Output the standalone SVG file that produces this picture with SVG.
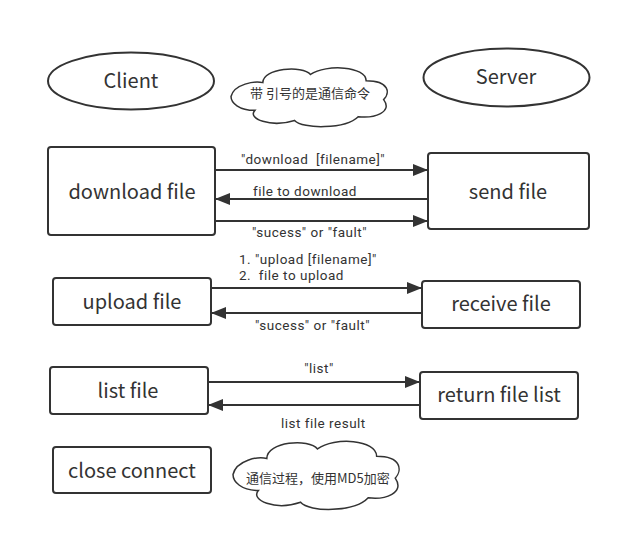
<svg xmlns="http://www.w3.org/2000/svg" width="621" height="543" viewBox="0 0 621 543">
<style>
.shape{fill:#fff;stroke:#333;stroke-width:2}
.cloud{fill:#fff;stroke:#333;stroke-width:1.5;vector-effect:non-scaling-stroke}
.big{font-family:"Noto Sans CJK SC","Noto Sans",sans-serif;font-size:20px;fill:#333;text-anchor:middle}
.lbl{font-family:Roboto,"Liberation Sans",sans-serif;font-size:13.5px;letter-spacing:0.5px;fill:#333;white-space:pre}
.cj{font-family:"Noto Sans CJK SC",sans-serif;font-size:13px;fill:#333}
.conn{stroke:#333;stroke-width:2;fill:none;marker-end:url(#arr)}
</style>
<defs>
<marker id="arr" markerUnits="userSpaceOnUse" markerWidth="16" markerHeight="12" refX="15" refY="6" orient="auto">
<path d="M0,0 L15,6 L0,12 Z" fill="#333"/>
</marker>
<path id="cloudp" class="cloud" d="M0,0.5 C0.02,0.3 0.15,0.25 0.2,0.28 C0.2,0.05 0.45,0 0.5,0.15 C0.6,-0.02 0.85,0.02 0.85,0.25 C1,0.25 1,0.45 0.96,0.55 C1.02,0.75 0.9,0.85 0.8,0.82 C0.72,1.02 0.45,1.02 0.4,0.88 C0.25,1 0.1,0.85 0.15,0.72 C0.05,0.72 0,0.6 0,0.5 Z"/>
</defs>
<rect width="621" height="543" fill="#fff"/>
<g id="client">
<ellipse class="shape" cx="131" cy="81" rx="83" ry="28.5"/>
<text class="big" x="131" y="88">Client</text>
</g>
<g id="server">
<ellipse class="shape" cx="506.5" cy="77.5" rx="83" ry="29"/>
<text class="big" x="506" y="84">Server</text>
</g>
<g id="note1">
<use href="#cloudp" transform="translate(231,65) scale(159,63)"/>
<text class="cj" x="250" y="98">带 引号的是通信命令</text>
</g>
<g id="download">
<rect class="shape" x="48" y="147" width="167" height="88" rx="3"/>
<text class="big" x="132" y="199">download file</text>
</g>
<g id="send">
<rect class="shape" x="428" y="153" width="161" height="76" rx="3"/>
<text class="big" x="508" y="199">send file</text>
</g>
<g id="upload">
<rect class="shape" x="53" y="278" width="158" height="47" rx="3"/>
<text class="big" x="132" y="309">upload file</text>
</g>
<g id="receive">
<rect class="shape" x="422" y="281" width="158" height="47" rx="3"/>
<text class="big" x="501" y="311">receive file</text>
</g>
<g id="list">
<rect class="shape" x="50" y="367" width="158" height="47" rx="3"/>
<text class="big" x="128" y="398">list file</text>
</g>
<g id="returnlist">
<rect class="shape" x="420" y="372" width="158" height="47" rx="3"/>
<text class="big" x="499" y="402">return file list</text>
</g>
<g id="close">
<rect class="shape" x="53" y="447" width="158" height="46" rx="3"/>
<text class="big" x="132" y="478">close connect</text>
</g>
<g id="note2">
<use href="#cloudp" transform="translate(233,438) scale(169,73)"/>
<text class="cj" x="246" y="483">通信过程，使用MD5加密</text>
</g>
<g id="connectors">
<line class="conn" x1="215" y1="170" x2="428" y2="170"/>
<line class="conn" x1="428" y1="199" x2="215" y2="199"/>
<line class="conn" x1="215" y1="221" x2="428" y2="221"/>
<line class="conn" x1="211" y1="288" x2="422" y2="288"/>
<line class="conn" x1="422" y1="313" x2="211" y2="313"/>
<line class="conn" x1="208" y1="382" x2="420" y2="382"/>
<line class="conn" x1="420" y1="405" x2="208" y2="405"/>
<text class="lbl" x="241" y="164">"download  [filename]"</text>
<text class="lbl" x="253" y="196">file to download</text>
<text class="lbl" x="252" y="237">"sucess" or "fault"</text>
<text class="lbl" x="239" y="263.5">1. "upload [filename]"</text>
<text class="lbl" x="239" y="280">2.  file to upload</text>
<text class="lbl" x="255" y="330">"sucess" or "fault"</text>
<text class="lbl" x="319" y="373" text-anchor="middle">"list"</text>
<text class="lbl" x="281" y="428">list file result</text>
</g>
</svg>
